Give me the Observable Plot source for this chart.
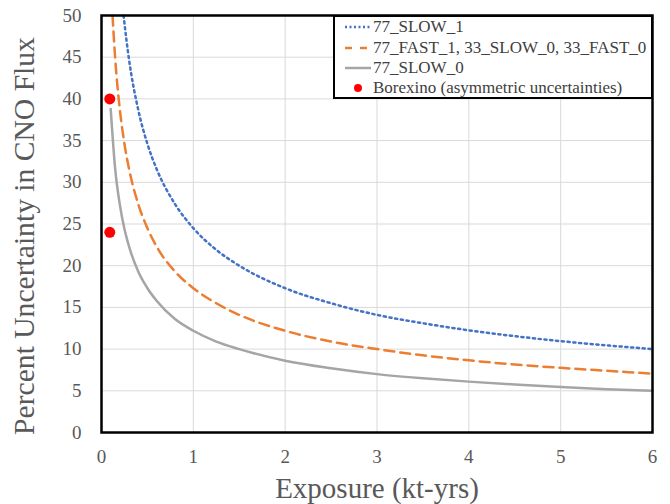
<!DOCTYPE html>
<html>
<head>
<meta charset="utf-8">
<script src="https://cdn.jsdelivr.net/npm/d3@7"></script>
<script src="https://cdn.jsdelivr.net/npm/@observablehq/plot@0.6"></script>
<style>
  html, body { margin: 0; padding: 0; background: #fff; }
  #wrap { position: relative; width: 670px; height: 504px; font-family: "Liberation Serif", "Times New Roman", serif; }
  #wrap svg text { font-family: "Liberation Serif", "Times New Roman", serif !important; }
  #legend { position: absolute; left: 333px; top: 15px; width: 320px; height: 84px; border: 2px solid #000; background: #fff; box-sizing: border-box; }
  .row { position: absolute; left: 0; height: 20px; display: flex; align-items: center; font-size: 17px; color: #404040; white-space: nowrap; }
  .row svg { margin-left: 10px; margin-right: 2px; }
</style>
</head>
<body>
<div id="wrap"></div>
<script>
// Data
const xSlow1 = [0.24, 0.3, 0.4, 0.5, 0.6, 0.8, 1, 1.25, 1.5, 2, 2.5, 3, 3.5, 4, 4.5, 5, 5.5, 6];
const ySlow1 = [50, 44.7, 38.7, 34.6, 31.6, 27.4, 24.5, 21.9, 20.0, 17.3, 15.5, 14.1, 13.1, 12.25, 11.55, 10.95, 10.45, 10.0];

const xFast1 = [0.12, 0.15, 0.2, 0.25, 0.3, 0.4, 0.5, 0.6, 0.8, 1, 1.25, 1.5, 2, 2.5, 3, 3.5, 4, 4.5, 5, 5.5, 6];
const yFast1 = [50, 44.7, 38.7, 34.6, 31.6, 27.4, 24.5, 22.3, 19.3, 17.3, 15.5, 14.1, 12.2, 10.9, 10.0, 9.25, 8.65, 8.15, 7.75, 7.4, 7.05];

const xSlow0 = [0.1, 0.15, 0.2, 0.25, 0.3, 0.4, 0.5, 0.6, 0.8, 1, 1.25, 1.5, 2, 2.5, 3, 3.5, 4, 4.5, 5, 5.5, 6];
const ySlow0 = [38.8, 31.5, 27.3, 24.4, 22.3, 19.3, 17.3, 15.8, 13.6, 12.2, 10.9, 10.0, 8.6, 7.7, 7.0, 6.5, 6.1, 5.75, 5.45, 5.2, 5.0];

const xBorexino = [0.09, 0.09];
const yBorexino = [40, 24];

const seriesNames = ["77_SLOW_1", "77_FAST_1, 33_SLOW_0, 33_FAST_0", "77_SLOW_0", "Borexino (asymmetric uncertainties)"];
const xTicks = [0, 1, 2, 3, 4, 5, 6];
const yTicks = [0, 5, 10, 15, 20, 25, 30, 35, 40, 45, 50];
const xTitle = "Exposure (kt-yrs)";
const yTitle = "Percent Uncertainty in CNO Flux";

const toRows = (xs, ys) => xs.map((x, i) => ({x, y: ys[i]}));
const slow1 = toRows(xSlow1, ySlow1);
const fast1 = toRows(xFast1, yFast1);
const slow0 = toRows(xSlow0, ySlow0);
const borex = toRows(xBorexino, yBorexino);

const blue = "#4472C4", orange = "#ED7D31", gray = "#A5A5A5", red = "#FF0000";
const serif = "Liberation Serif, Times New Roman, serif";

const chart = Plot.plot({
  width: 670,
  height: 504,
  marginLeft: 101,
  marginRight: 18,
  marginTop: 15,
  marginBottom: 72,
  style: { fontFamily: serif, background: "#fff" },
  x: { domain: [0, 6], ticks: xTicks },
  y: { domain: [0, 50], ticks: yTicks },
  marks: [
    Plot.gridX(xTicks, { stroke: "#d9d9d9", strokeOpacity: 1, strokeWidth: 1 }),
    Plot.gridY(yTicks, { stroke: "#d9d9d9", strokeOpacity: 1, strokeWidth: 1 }),
    Plot.axisX(xTicks, { tickSize: 0, tickPadding: 17, fontSize: 19, fill: "#595959", label: null, fontFamily: serif }),
    Plot.axisY(yTicks, { tickSize: 0, tickPadding: 20, fontSize: 19, fill: "#595959", label: null, fontFamily: serif }),
    Plot.line(slow0, { x: "x", y: "y", stroke: gray, strokeWidth: 2.5, curve: "monotone-x" }),
    Plot.line(fast1, { x: "x", y: "y", stroke: orange, strokeWidth: 2.5, strokeDasharray: "10 6", curve: "monotone-x" }),
    Plot.line(slow1, { x: "x", y: "y", stroke: blue, strokeWidth: 2.5, strokeDasharray: "2.2 3.6", curve: "monotone-x" }),
    Plot.dot(borex, { x: "x", y: "y", r: 5.5, fill: red, stroke: "none" }),
    Plot.frame({ stroke: "#000", strokeWidth: 2.5 }),
    Plot.text([xTitle], { frameAnchor: "bottom", textAnchor: "middle", dy: 65, fontSize: 29, fill: "#595959", fontFamily: serif }),
    Plot.text([yTitle], { frameAnchor: "left", textAnchor: "middle", dx: -77, dy: 12, rotate: -90, fontSize: 29.6, fill: "#595959", fontFamily: serif })
  ]
});

const wrap = document.getElementById("wrap");
wrap.appendChild(chart);

// Legend overlay
const legend = document.createElement("div");
legend.id = "legend";
const samples = [
  `<svg width="26" height="6"><line x1="0" y1="3" x2="26" y2="3" stroke="${blue}" stroke-width="2.5" stroke-dasharray="2 2.5"/></svg>`,
  `<svg width="26" height="6"><line x1="0" y1="3" x2="26" y2="3" stroke="${orange}" stroke-width="2.5" stroke-dasharray="7 8"/></svg>`,
  `<svg width="26" height="6"><line x1="0" y1="3" x2="26" y2="3" stroke="${gray}" stroke-width="2.5"/></svg>`,
  `<svg width="26" height="10"><circle cx="13" cy="5" r="4" fill="${red}"/></svg>`
];
const rowTops = [0, 21, 41, 61];
seriesNames.forEach((name, i) => {
  const row = document.createElement("div");
  row.className = "row";
  row.style.top = rowTops[i] + "px";
  row.innerHTML = samples[i] + `<span>${name}</span>`;
  legend.appendChild(row);
});
wrap.appendChild(legend);
</script>
</body>
</html>
